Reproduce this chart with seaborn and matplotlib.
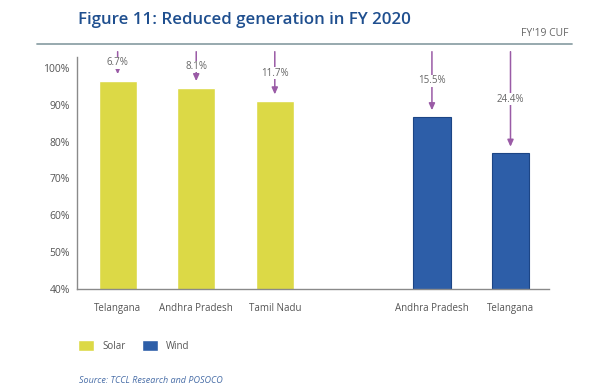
import pandas as pd
import matplotlib.pyplot as plt
import seaborn as sns

# values
states = ["Telangana", "Andhra Pradesh", "Tamil Nadu", "Andhra Pradesh", "Telangana"]
tech = ["Solar", "Solar", "Solar", "Wind", "Wind"]
cuf_fy20 = [96.5, 94.6, 91.0, 86.7, 76.8]
reduction = ["6.7%", "8.1%", "11.7%", "15.5%", "24.4%"]
yticks = [40, 50, 60, 70, 80, 90, 100]

df = pd.DataFrame({"state": states, "tech": tech, "cuf": cuf_fy20})
df["key"] = df["tech"] + " " + df["state"]
order = list(df["key"][:3]) + ["gap"] + list(df["key"][3:])

sns.set_style("white")
plt.rcParams["font.family"] = ["Open Sans", "DejaVu Sans"]

fig = plt.figure(figsize=(6, 3.92), dpi=100)
ax = fig.add_axes([0.128, 0.263, 0.787, 0.592])

pal = {"Solar": "#dcd946", "Wind": "#2d5ea8"}
sns.barplot(data=df, x="key", y="cuf", hue="tech", order=order, palette=pal,
            dodge=False, width=0.48, saturation=1, ax=ax, legend=True)
for p, t in zip([b for b in ax.patches if b.get_height() > 0], tech):
    if t == "Wind":
        p.set_edgecolor("#1c4585")
        p.set_linewidth(0.8)

ax.set_ylim(40, 103)
ax.set_xlim(-0.52, 5.49)
ax.set_yticks(yticks)
ax.set_yticklabels([f"{v}%" for v in yticks], fontsize=7.5, color="#555555")
ax.set_xticks([0, 1, 2, 4, 5])
ax.set_xticklabels(states, fontsize=7, color="#555555")
ax.set_xlabel("")
ax.set_ylabel("")
ax.tick_params(axis="y", length=3, width=0.8, color="#777777", pad=2)
ax.tick_params(axis="x", length=0, pad=10)
for s in ["top", "right"]:
    ax.spines[s].set_visible(False)
for s in ["left", "bottom"]:
    ax.spines[s].set_color("#8a8a8a")
    ax.spines[s].set_linewidth(1.0)

# reduction arrows from FY'19 CUF level down to FY'20 bars
xpos = [0, 1, 2, 4, 5]
start = 104.4
for x, v, lab in zip(xpos, cuf_fy20, reduction):
    end = v + 1.8
    ax.annotate("", xy=(x, end), xytext=(x, start),
                arrowprops=dict(arrowstyle="-|>,head_length=0.4,head_width=0.18",
                                color="#9a5ba6", lw=1.1, shrinkA=0, shrinkB=0),
                annotation_clip=False, zorder=4)
    ax.text(x, start - 0.5 * (start - end), lab, ha="center", va="center",
            fontsize=7, color="#666666", clip_on=False, zorder=6,
            bbox=dict(facecolor="white", edgecolor="none", pad=0.3))

# legend
handles, labels = ax.get_legend_handles_labels()
ax.legend(handles, labels, loc="center left", bbox_to_anchor=(0.115, 0.117),
          bbox_transform=fig.transFigure, ncol=2, frameon=False, fontsize=7,
          handlelength=1.7, handleheight=1.3, columnspacing=1.7,
          handletextpad=0.8, labelcolor="#555555")

# header
fig.text(0.13, 0.948, "Figure 11: Reduced generation in FY 2020", fontsize=12.2,
         fontweight="semibold", color="#1f4f8f", va="center", ha="left")
fig.add_artist(plt.Line2D([0.062, 0.953], [0.888, 0.888], color="#8fa3a8", lw=1.3))
fig.text(0.948, 0.915, "FY'19 CUF", fontsize=7.5, color="#666666", ha="right", va="center")

fig.text(0.132, 0.03, "Source: TCCL Research and POSOCO", fontsize=6.5,
         style="italic", color="#4a6fa8", ha="left", va="center")

fig.savefig("out.png", dpi=100, facecolor="white")
